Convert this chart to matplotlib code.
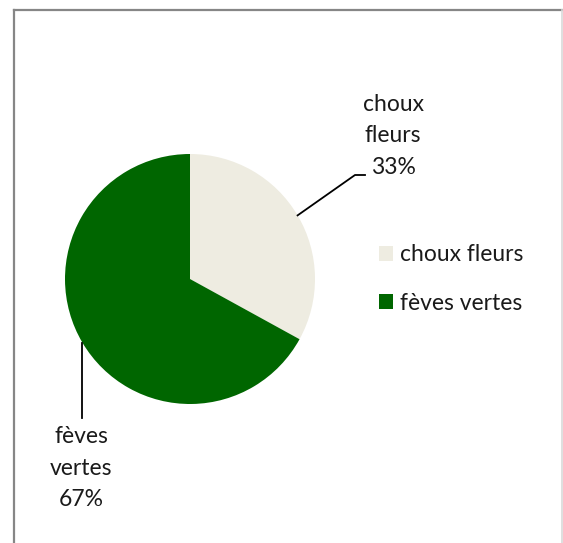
import numpy as np
import matplotlib.pyplot as plt
from matplotlib.lines import Line2D
from matplotlib.patches import Patch

categories = ["choux fleurs", "fèves vertes"]
shares = [33, 67]
labels = ["choux\nfleurs\n33%", "fèves\nvertes\n67%"]
colors = ["#EEECE1", "#006600"]

W, H = 563, 543
FS = 16.5
plt.rcParams["font.family"] = ["Lato", "DejaVu Sans"]

fig = plt.figure(figsize=(W / 100, H / 100), dpi=100)
fig.patch.set_facecolor("white")

# chart frame (cropped at right and bottom)
fig.add_artist(Line2D([13.5 / W, 13.5 / W], [0, 1 - 9.5 / H], color="#868686", lw=1.6))
fig.add_artist(Line2D([13.5 / W, 1], [1 - 9.5 / H, 1 - 9.5 / H], color="#868686", lw=1.6))
fig.add_artist(Line2D([562 / W, 562 / W], [0, 1 - 9.5 / H], color="#d9d9d9", lw=1.2))

cx, cy, r = 190, 279, 125
ax = fig.add_axes([(cx - r) / W, (H - cy - r) / H, 2 * r / W, 2 * r / H])
ax.pie(shares, colors=colors, startangle=90, counterclock=False,
       wedgeprops=dict(linewidth=0))
ax.set_xlim(-1, 1)
ax.set_ylim(-1, 1)
ax.set_aspect("equal")
ax.axis("off")


def d(px, py):
    return ((px - cx) / r, (cy - py) / r)


# leader lines and labels
mid1 = np.deg2rad(90 - shares[0] / 100 * 180)
p1 = (np.cos(mid1), np.sin(mid1))
xs = [p1[0], d(355, 175)[0], d(365, 175)[0]]
ys = [p1[1], d(355, 175)[1], d(365, 175)[1]]
ax.plot(xs, ys, color="black", lw=1.3, clip_on=False)
ax.text(*d(393, 136), labels[0], ha="center", va="center", fontsize=FS,
        linespacing=1.62, color="#1a1a1a", clip_on=False)

mid2 = np.deg2rad(90 - (shares[0] + shares[1] / 2) / 100 * 360)
p2 = (np.cos(mid2), np.sin(mid2))
ax.plot([p2[0], p2[0]], [p2[1], d(0, 418)[1]], color="black", lw=1.3, clip_on=False)
ax.text(*d(81, 468), labels[1], ha="center", va="center", fontsize=FS,
        linespacing=1.62, color="#1a1a1a", clip_on=False)

handles = [Patch(facecolor=c, edgecolor="none") for c in colors]
fig.legend(handles, categories, loc="center left",
           bbox_to_anchor=(379 / W, 1 - 279 / H), frameon=False, fontsize=FS,
           handlelength=0.62, handleheight=0.62, handletextpad=0.3,
           labelspacing=1.18, borderaxespad=0, borderpad=0,
           labelcolor="#1a1a1a")

fig.savefig("out.png", dpi=100)
